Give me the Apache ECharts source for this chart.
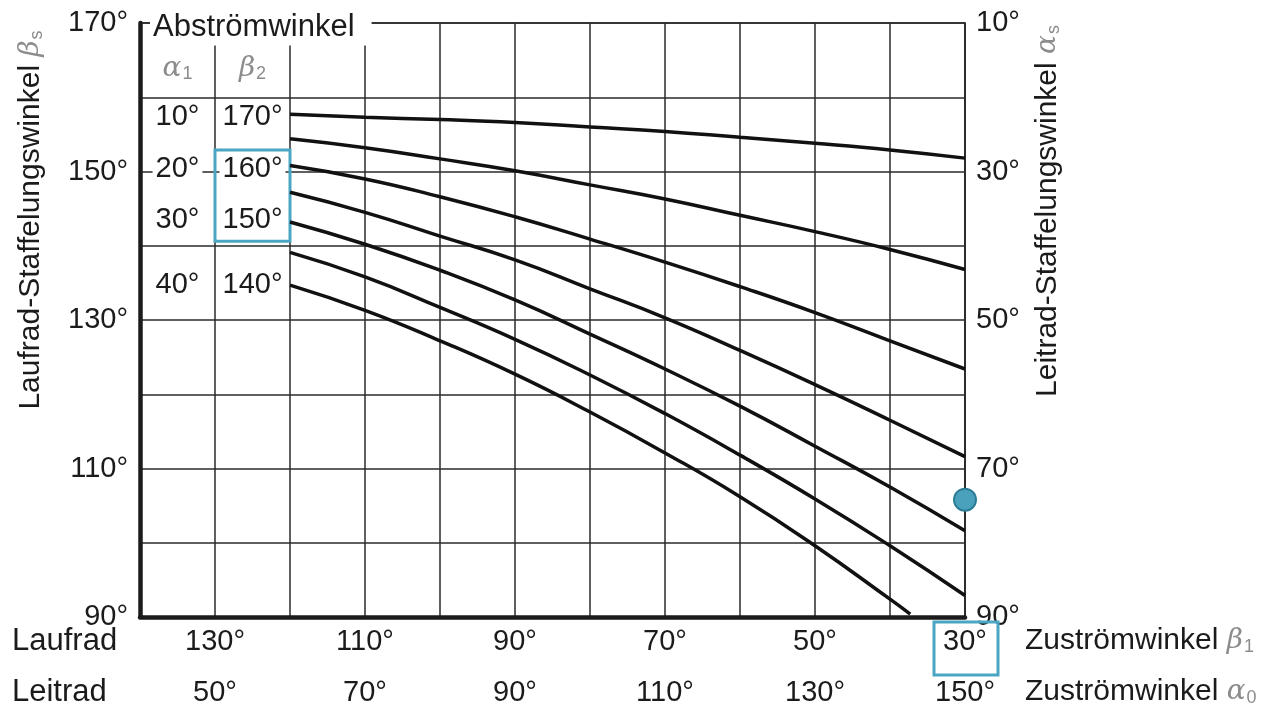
<!DOCTYPE html>
<html>
<head>
<meta charset="utf-8">
<title>Staffelungswinkel</title>
<script src="https://cdn.jsdelivr.net/npm/echarts@6/dist/echarts.min.js"></script>
<style>
  html, body { margin: 0; padding: 0; background: #fff; }
  #chart { width: 1288px; height: 713px; }
</style>
</head>
<body>
<div id="chart"></div>
<script>
// Zuströmwinkel beta1 (Laufrad) at the grid columns where the curves were read
const beta1 = [120, 110, 100, 90, 80, 70, 60, 50, 40, 30]

// Laufrad-Staffelungswinkel beta_s, one curve per Abströmwinkel beta2 (top to bottom)
const curve170 = [157.7, 157.3, 157.0, 156.6, 156.0, 155.4, 154.6, 153.8, 152.9, 151.8]
const curve165 = [154.4, 153.2, 151.7, 150.1, 148.2, 146.3, 144.1, 141.9, 139.5, 136.8]
const curve160 = [150.8, 149.0, 146.6, 143.9, 140.9, 137.8, 134.5, 131.0, 127.2, 123.4]
const curve155 = [147.2, 144.5, 141.3, 138.1, 134.2, 130.3, 125.9, 121.3, 116.5, 111.6]
const curve150 = [143.2, 140.2, 136.7, 132.7, 128.1, 123.4, 118.4, 113.0, 107.5, 101.6]
const curve145 = [139.1, 135.8, 131.7, 127.4, 122.6, 117.4, 111.8, 105.9, 99.6, 92.9]
const curve140 = [134.7, 131.3, 127.2, 122.7, 117.6, 112.1, 106.2, 99.6, 92.4]
const curve140End = [37.3, 90.4]   // last curve runs into the bottom axis

// little table on the left (Abströmwinkel)
const tableHeader = [['α', '1'], ['β', '2']]
const alpha1Labels = ['10°', '20°', '30°', '40°']
const beta2Labels = ['170°', '160°', '150°', '140°']
const tableRows = [157.3, 150.3, 143.5, 134.7]
const headerRow = 163.9

// highlighted point on the right edge and the highlighted table cells
const markedPoint = [30, 105.8]
const markedCells = [[130, 152.9], [120, 140.6]]

const font = '"Liberation Sans", Arial, sans-serif'
const ink = '#1b1b1b'
const gridInk = '#2a2a2a'
const blue = '#4aa6c2'

const pairs = (ys) => ys.map((v, i) => [beta1[i], v])

const curves = [
  pairs(curve170),
  pairs(curve165),
  pairs(curve160),
  pairs(curve155),
  pairs(curve150),
  pairs(curve145),
  pairs(curve140).concat([curve140End])
]

const mathRich = {
  t: { fontFamily: font, fontSize: 30, color: ink, fill: ink },
  g: { fontFamily: '"DejaVu Serif", serif', fontStyle: 'italic', fontSize: 28, color: '#8c8c8c', fill: '#8c8c8c' },
  s: { fontFamily: font, fontSize: 18, color: '#8c8c8c', fill: '#8c8c8c', verticalAlign: 'bottom', padding: [12, 0, 0, 1] }
}

const chart = echarts.init(document.getElementById('chart'))

const lineSeries = curves.map((c) => ({
  type: 'line',
  data: c,
  smooth: 0.5,
  symbol: 'none',
  silent: true,
  lineStyle: { color: '#111', width: 3.5 },
  z: 3
}))

function textEl(text, x, y, align, size, extra) {
  return Object.assign({
    type: 'text',
    x: x,
    y: y,
    z: 100,
    style: {
      text: text,
      rich: mathRich,
      fontFamily: font,
      fontSize: size,
      fill: ink,
      align: align,
      textAlign: align,
      verticalAlign: 'middle',
      textVerticalAlign: 'middle'
    }
  }, extra || {})
}

const tickLabel = {
  fontSize: 29,
  fontFamily: font,
  color: ink
}

chart.setOption({
  backgroundColor: '#fff',
  animation: false,
  grid: {
    left: 140,
    right: 323,
    top: 23,
    bottom: 96,
    show: true,
    borderColor: gridInk,
    borderWidth: 1.5,
    outerBoundsMode: 'none'
  },
  xAxis: [{
    type: 'value',
    min: 30,
    max: 140,
    interval: 10,
    inverse: true,
    position: 'bottom',
    axisLine: { show: true, onZero: false, lineStyle: { color: ink, width: 4.5 } },
    axisTick: { show: false },
    splitLine: { show: true, lineStyle: { color: gridInk, width: 1.5 } },
    axisLabel: Object.assign({
      margin: 10,
      formatter: (v) => ((v - 30) % 20 === 0 ? v + '°' : '')
    }, tickLabel)
  }, {
    type: 'value',
    min: 30,
    max: 140,
    interval: 10,
    inverse: true,
    position: 'bottom',
    offset: 51,
    axisLine: { show: false },
    axisTick: { show: false },
    splitLine: { show: false },
    axisLabel: Object.assign({
      margin: 10,
      formatter: (v) => ((v - 30) % 20 === 0 ? (180 - v) + '°' : '')
    }, tickLabel)
  }],
  yAxis: [{
    type: 'value',
    min: 90,
    max: 170,
    interval: 10,
    position: 'left',
    axisLine: { show: true, onZero: false, lineStyle: { color: ink, width: 4.5 } },
    axisTick: { show: false },
    splitLine: { show: true, lineStyle: { color: gridInk, width: 1.5 } },
    axisLabel: Object.assign({
      margin: 12,
      formatter: (v) => ((v - 90) % 20 === 0 ? v + '°' : '')
    }, tickLabel)
  }, {
    type: 'value',
    min: 90,
    max: 170,
    interval: 10,
    position: 'right',
    axisLine: { show: true, onZero: false, lineStyle: { color: gridInk, width: 1.5 } },
    axisTick: { show: false },
    splitLine: { show: false },
    axisLabel: Object.assign({
      margin: 11,
      formatter: (v) => ((v - 90) % 20 === 0 ? (180 - v) + '°' : '')
    }, tickLabel)
  }],
  series: lineSeries.concat([{
    // table cells
    type: 'scatter',
    symbolSize: 1,
    silent: true,
    clip: false,
    itemStyle: { color: '#fff', opacity: 1 },
    z: 5,
    data: tableRows.map((y, i) => ({ name: alpha1Labels[i], value: [135, y] }))
      .concat(tableRows.map((y, i) => ({ name: beta2Labels[i], value: [125, y] }))),
    label: {
      show: true,
      position: 'inside',
      formatter: '{b}',
      fontSize: 29,
      fontFamily: font,
      color: ink,
      backgroundColor: '#fff',
      padding: [1, 3]
    },
    markArea: {
      silent: true,
      itemStyle: { color: 'rgba(0,0,0,0)', borderColor: blue, borderWidth: 3 },
      data: [[{ coord: markedCells[0] }, { coord: markedCells[1] }]]
    }
  }, {
    // table header alpha1 / beta2
    type: 'scatter',
    symbolSize: 1,
    silent: true,
    clip: false,
    itemStyle: { color: '#fff', opacity: 1 },
    z: 5,
    data: tableHeader.map((h, i) => ({ name: h[0] + '|' + h[1], value: [135 - 10 * i, headerRow] })),
    label: {
      show: true,
      position: 'inside',
      formatter: (p) => {
        const parts = p.name.split('|')
        return '{g|' + parts[0] + '}{s|' + parts[1] + '}'
      },
      rich: mathRich
    }
  }, {
    // marked operating point
    type: 'scatter',
    symbolSize: 22,
    clip: false,
    silent: true,
    z: 10,
    itemStyle: { color: '#4aa1bc', borderColor: '#2b7c95', borderWidth: 2, opacity: 1 },
    data: [markedPoint]
  }]),
  graphic: [
    {
      type: 'text',
      x: 150,
      y: 27,
      z: 100,
      style: {
        text: 'Abströmwinkel', fontFamily: font, fontSize: 31, fill: ink,
        align: 'left', textAlign: 'left', verticalAlign: 'middle', textVerticalAlign: 'middle',
        backgroundColor: '#fff', padding: [2, 17, 4, 3]
      }
    },
    textEl('Laufrad', 12, 641, 'left', 31),
    textEl('Leitrad', 12, 692, 'left', 31),
    textEl('{t|Zuströmwinkel }{g|β}{s|1}', 1025, 641, 'left', 30),
    textEl('{t|Zuströmwinkel }{g|α}{s|0}', 1025, 692, 'left', 30),
    textEl('{t|Laufrad-Staffelungswinkel }{g|β}{s|s}', 31, 220, 'center', 30, { rotation: Math.PI / 2 }),
    textEl('{t|Leitrad-Staffelungswinkel }{g|α}{s|s}', 1048, 211, 'center', 30, { rotation: Math.PI / 2 }),
    {
      type: 'rect',
      z: 100,
      shape: { x: 934, y: 622, width: 64, height: 53 },
      style: { fill: 'none', stroke: blue, lineWidth: 3 }
    }
  ]
})
</script>
</body>
</html>
